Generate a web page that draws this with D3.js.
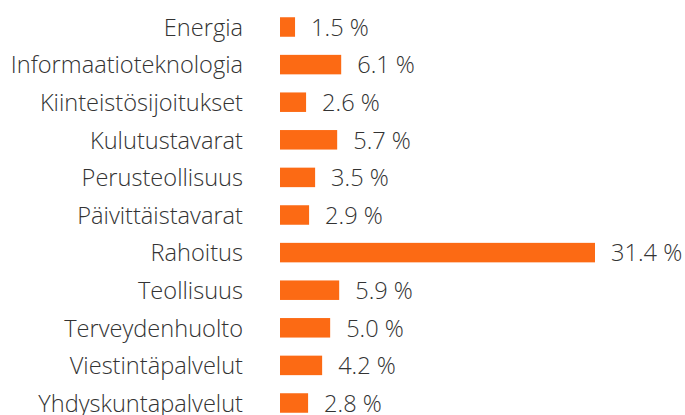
<!DOCTYPE html>
<html>
<head>
<meta charset="utf-8">
<script src="https://cdn.jsdelivr.net/npm/d3@7"></script>
<style>
  body { margin: 0; background: #fff; }
</style>
</head>
<body>
<div id="chart"></div>
<script>
const sectors = ["Energia", "Informaatioteknologia", "Kiinteistösijoitukset", "Kulutustavarat",
  "Perusteollisuus", "Päivittäistavarat", "Rahoitus", "Teollisuus", "Terveydenhuolto",
  "Viestintäpalvelut", "Yhdyskuntapalvelut"];
const shares = [1.5, 6.1, 2.6, 5.7, 3.5, 2.9, 31.4, 5.9, 5.0, 4.2, 2.8];

const width = 685, height = 415;
const barH = 19.5;

const svg = d3.select("#chart").append("svg")
  .attr("width", width)
  .attr("height", height)
  .style("font-family", "'Open Sans', sans-serif")
  .style("font-weight", 300);

const x = d3.scaleLinear().domain([0, 31.4]).range([280, 595]);
const y = d3.scalePoint().domain(sectors).range([27, 403]);

const rows = svg.append("g")
  .selectAll("g")
  .data(sectors.map((s, i) => ({ name: s, value: shares[i] })))
  .join("g");

rows.append("rect")
  .attr("x", x(0))
  .attr("y", d => y(d.name) - barH / 2)
  .attr("width", d => x(d.value) - x(0))
  .attr("height", barH)
  .attr("fill", "#fc6a14");

rows.append("text")
  .attr("x", 243)
  .attr("y", d => y(d.name))
  .attr("dy", "0.37em")
  .attr("text-anchor", "end")
  .attr("fill", "#333")
  .style("font-size", "23.6px")
  .text(d => d.name);

rows.append("text")
  .attr("x", d => x(d.value) + 16)
  .attr("y", d => y(d.name))
  .attr("dy", "0.37em")
  .attr("fill", "#333")
  .style("font-size", "23.6px")
  .text(d => d3.format(".1f")(d.value) + " %");
</script>
</body>
</html>
